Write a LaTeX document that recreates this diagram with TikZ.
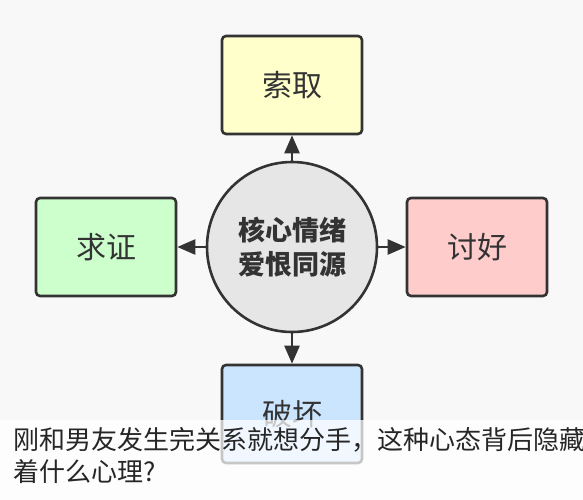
\documentclass[tikz,border=0pt]{standalone}
\usepackage{fontspec}
\usepackage{tikz}
\usetikzlibrary{arrows.meta}
\newfontfamily\cjk{Noto Sans CJK SC}
\definecolor{bgcol}{HTML}{F8F8F8}
\definecolor{edgecol}{HTML}{333333}
\definecolor{yellowbox}{HTML}{FFFFCC}
\definecolor{greenbox}{HTML}{CCFFCC}
\definecolor{pinkbox}{HTML}{FFCCCC}
\definecolor{bluebox}{HTML}{CCE5FF}
\definecolor{corecol}{HTML}{E6E6E6}

\begin{document}
\begin{tikzpicture}[x=1pt,y=-1pt,
  box/.style={draw=edgecol,line width=2.6pt,rounded corners=4pt,minimum width=140pt,minimum height=98pt,inner sep=0pt,font=\cjk\fontsize{30}{30}\selectfont,text=edgecol},
  core/.style={circle,draw=edgecol,line width=2.6pt,fill=corecol,minimum size=170pt,inner sep=0pt,align=center,font=\cjk\bfseries\fontsize{27}{34}\selectfont,text=edgecol},
  link/.style={draw=edgecol,line width=2.4pt,-{Triangle[length=18pt,width=15pt]}}]
\fill [bgcol] (0,0) rectangle (583,500);
\useasboundingbox (0,0) rectangle (583,500);
% centre and the four boxes
\node [core] (heart) at (292,247) {核心情绪\\爱恨同源};
\node [box,fill=yellowbox] (take) at (292,85) {索取};
\node [box,fill=greenbox] (proof) at (106,247) {求证};
\node [box,fill=pinkbox] (please) at (477,247) {讨好};
\node [box,fill=bluebox] (harm) at (292,414) {破坏};
% arrows
\draw [link] (heart.north) -- (take.south);
\draw [link] (heart.west) -- (proof.east);
\draw [link] (heart.east) -- (please.west);
\draw [link] (heart.south) -- (harm.north);
% caption over the picture
\fill [white,opacity=0.72] (0,420) rectangle (583,500);
\node [anchor=north west,inner sep=0pt,align=left,text=black!85,font=\cjk\fontsize{26}{32}\selectfont] (caption) at (13,427) {刚和男友发生完关系就想分手，这种心态背后隐藏\\着什么心理?};
\end{tikzpicture}
\end{document}
